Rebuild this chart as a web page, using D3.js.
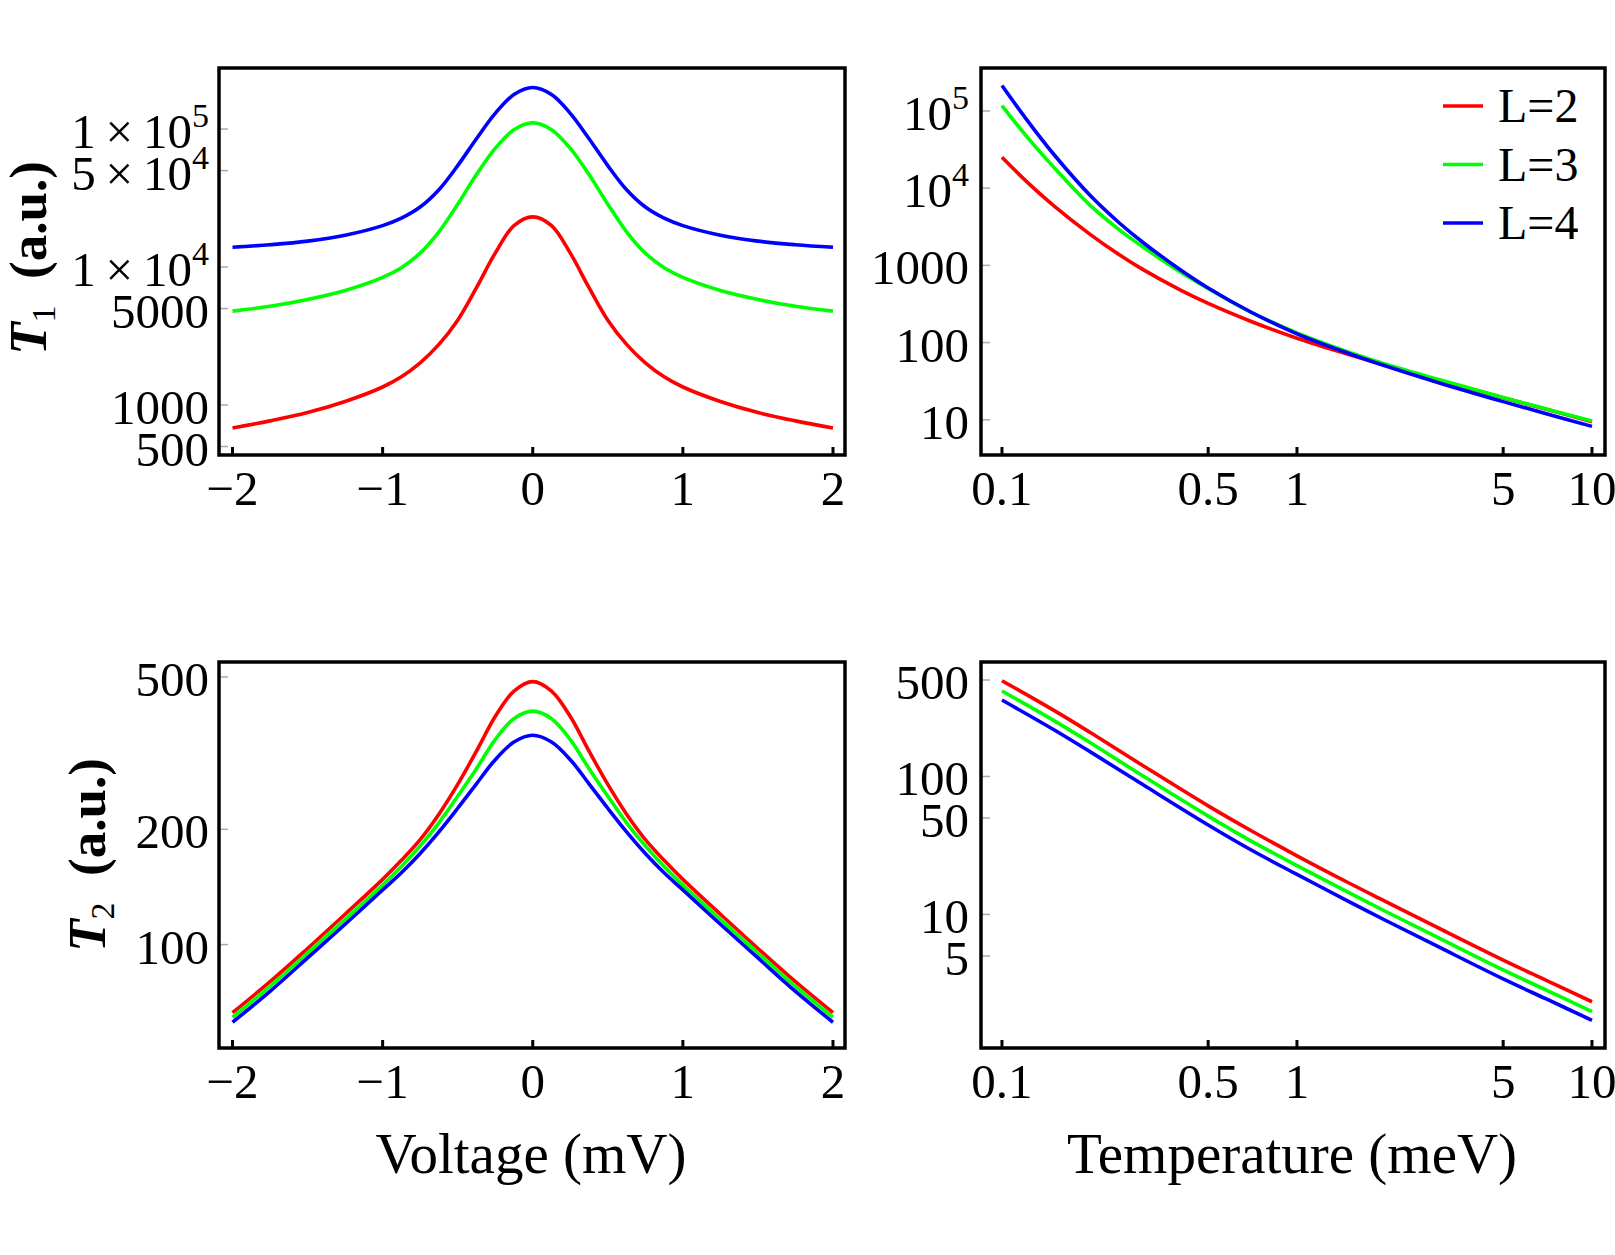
<!DOCTYPE html>
<html>
<head>
<meta charset="utf-8">
<script src="https://cdnjs.cloudflare.com/ajax/libs/d3/7.8.5/d3.min.js"></script>
<style>
  body { margin: 0; background: #fff; }
  text { font-family: "Liberation Serif", "Times New Roman", serif; fill: #000; }
</style>
</head>
<body>
<div class="chart-area"></div>
<script>
// ---- data ----
var series = ["L=2", "L=3", "L=4"];
var colors = ["#ff0000", "#00ff00", "#0000ff"];

var voltage = [-2, -1.75, -1.5, -1.25, -1, -0.875, -0.75, -0.625, -0.5, -0.375, -0.25, -0.125, 0,
               0.125, 0.25, 0.375, 0.5, 0.625, 0.75, 0.875, 1, 1.25, 1.5, 1.75, 2];
var t1VoltL2 = [682, 767, 881, 1060, 1350, 1600, 2020, 2750, 4120, 7080, 12600, 19950, 23100,
                19950, 12600, 7080, 4120, 2750, 2020, 1600, 1350, 1060, 881, 767, 682];
var t1VoltL3 = [4790, 5190, 5820, 6760, 8410, 9890, 12600, 18000, 28500, 46800, 72400, 98900, 111000,
                98900, 72400, 46800, 28500, 18000, 12600, 9890, 8410, 6760, 5820, 5190, 4790];
var t1VoltL4 = [13900, 14500, 15400, 17000, 19950, 22600, 27200, 36300, 54300, 85100, 130000, 178000, 200000,
                178000, 130000, 85100, 54300, 36300, 27200, 22600, 19950, 17000, 15400, 14500, 13900];

var t2VoltL2 = [66.4, 80, 97.7, 120, 148, 166, 188, 219, 262, 320, 394, 459, 486,
                459, 394, 320, 262, 219, 188, 166, 148, 120, 97.7, 80, 66.4];
var t2VoltL3 = [64.6, 77.8, 95, 116.4, 143, 160, 181, 208, 244, 288, 343, 389, 407,
                389, 343, 288, 244, 208, 181, 160, 143, 116.4, 95, 77.8, 64.6];
var t2VoltL4 = [62.7, 75.5, 92.3, 113, 139, 154, 173, 197, 227, 263, 304, 338, 352,
                338, 304, 263, 227, 197, 173, 154, 139, 113, 92.3, 75.5, 62.7];

var temperature = [0.1, 0.12, 0.15, 0.2, 0.25, 0.3, 0.4, 0.5, 0.7, 1, 1.5, 2, 3, 5, 7, 10];
var t1TempL2 = [25100, 12600, 5890, 2480, 1370, 887, 485, 321, 187.5, 113.8, 70.0, 50.7, 32.9, 19.3, 13.7, 9.44];
var t1TempL3 = [117500, 49000, 18600, 5890, 2880, 1740, 832, 501, 245.5, 133.4, 75.0, 52.5, 33.5, 19.5, 13.8, 9.66];
var t1TempL4 = [213800, 81500, 27300, 7900, 3540, 1995, 891, 509, 247, 130, 72.3, 49.7, 30.5, 17.2, 12.0, 8.22];

var temperature2 = [0.1, 0.15, 0.2, 0.3, 0.5, 0.7, 1, 1.5, 2, 3, 5, 7, 10];
var t2TempL2 = [494, 301, 207, 120, 61.2, 40.4, 26.6, 16.9, 12.4, 8.02, 4.67, 3.33, 2.33];
var t2TempL3 = [416, 254, 175, 101, 51.6, 34.0, 22.6, 14.4, 10.5, 6.81, 3.96, 2.83, 1.98];
var t2TempL4 = [358, 218, 150, 87.3, 44.5, 29.3, 19.5, 12.4, 9.04, 5.86, 3.41, 2.44, 1.71];

var voltTicks = [-2, -1, 0, 1, 2];
var voltTickLabels = ["\u22122", "\u22121", "0", "1", "2"];
var tempTicks = [0.1, 0.5, 1, 5, 10];
var tempTickLabels = ["0.1", "0.5", "1", "5", "10"];

var t1VoltTicks = [500, 1000, 5000, 1e4, 5e4, 1e5];
var t1VoltTickLabels = ["500", "1000", "5000", "1\u2009\u00d7\u200910^4", "5\u2009\u00d7\u200910^4", "1\u2009\u00d7\u200910^5"];
var t1TempTicks = [10, 100, 1000, 1e4, 1e5];
var t1TempTickLabels = ["10", "100", "1000", "10^4", "10^5"];
var t2VoltTicks = [100, 200, 500];
var t2VoltTickLabels = ["100", "200", "500"];
var t2TempTicks = [5, 10, 50, 100, 500];
var t2TempTickLabels = ["5", "10", "50", "100", "500"];

// ---- drawing ----
var svg = d3.select(".chart-area")
    .append("svg")
    .attr("width", 1615)
    .attr("height", 1255);

var colL = { x0: 219, x1: 845 };
var colR = { x0: 981, x1: 1605 };
var rowT = { y0: 68, y1: 455 };
var rowB = { y0: 662, y1: 1048 };

var xVolt = d3.scaleLinear().domain([-2.09, 2.08]).range([colL.x0, colL.x1]);
var xTemp = d3.scaleLog().domain([0.0849, 11.07]).range([colR.x0, colR.x1]);

var panels = [
    { x: xVolt, box: colL, row: rowT, xs: voltage, ys: [t1VoltL2, t1VoltL3, t1VoltL4],
      y: d3.scaleLog().domain([434, 2.77e5]).range([rowT.y1, rowT.y0]),
      yt: t1VoltTicks, ytl: t1VoltTickLabels, xt: voltTicks, xtl: voltTickLabels, lblRight: 209 },
    { x: xTemp, box: colR, row: rowT, xs: temperature, ys: [t1TempL2, t1TempL3, t1TempL4],
      y: d3.scaleLog().domain([3.5, 3.6e5]).range([rowT.y1, rowT.y0]),
      yt: t1TempTicks, ytl: t1TempTickLabels, xt: tempTicks, xtl: tempTickLabels, lblRight: 969 },
    { x: xVolt, box: colL, row: rowB, xs: voltage, ys: [t2VoltL2, t2VoltL3, t2VoltL4],
      y: d3.scaleLog().domain([53.7, 547]).range([rowB.y1, rowB.y0]),
      yt: t2VoltTicks, ytl: t2VoltTickLabels, xt: voltTicks, xtl: voltTickLabels, lblRight: 209 },
    { x: xTemp, box: colR, row: rowB, xs: temperature2, ys: [t2TempL2, t2TempL3, t2TempL4],
      y: d3.scaleLog().domain([1.077, 675]).range([rowB.y1, rowB.y0]),
      yt: t2TempTicks, ytl: t2TempTickLabels, xt: tempTicks, xtl: tempTickLabels, lblRight: 969 }
];

panels.forEach(function(p, i) {
    var g = svg.append("g");
    var clipId = "clip" + i;
    svg.append("clipPath").attr("id", clipId)
        .append("rect")
        .attr("x", p.box.x0).attr("y", p.row.y0)
        .attr("width", p.box.x1 - p.box.x0).attr("height", p.row.y1 - p.row.y0);

    // ticks on the left edge (faint grey)
    g.selectAll(".ytick").data(p.yt).enter().append("line")
        .attr("x1", p.box.x0).attr("x2", p.box.x0 + 9)
        .attr("y1", function(d) { return p.y(d); })
        .attr("y2", function(d) { return p.y(d); })
        .attr("stroke", "#aaa").attr("stroke-width", 1.5);

    // ticks on the bottom edge
    g.selectAll(".xtick").data(p.xt).enter().append("line")
        .attr("x1", function(d) { return p.x(d); })
        .attr("x2", function(d) { return p.x(d); })
        .attr("y1", p.row.y1).attr("y2", p.row.y1 - 8)
        .attr("stroke", "#000").attr("stroke-width", 3);

    var line = d3.line()
        .x(function(d, k) { return p.x(p.xs[k]); })
        .y(function(d) { return p.y(d); })
        .curve(d3.curveCatmullRom.alpha(0.5));

    g.append("g").attr("clip-path", "url(#" + clipId + ")")
        .selectAll("path").data(p.ys).enter().append("path")
        .attr("d", line)
        .attr("fill", "none")
        .attr("stroke", function(d, k) { return colors[k]; })
        .attr("stroke-width", 3.6)
        .attr("stroke-linejoin", "round");

    g.append("rect")
        .attr("x", p.box.x0).attr("y", p.row.y0)
        .attr("width", p.box.x1 - p.box.x0).attr("height", p.row.y1 - p.row.y0)
        .attr("fill", "none").attr("stroke", "#000").attr("stroke-width", 3.5);

    // x tick labels
    g.selectAll(".xl").data(p.xt).enter().append("text")
        .attr("x", function(d) { return p.x(d); })
        .attr("y", p.row.y1 + 50)
        .attr("text-anchor", "middle")
        .attr("font-size", 49)
        .text(function(d, k) { return p.xtl[k]; });

    // y tick labels, "a^b" -> superscript
    p.yt.forEach(function(v, k) {
        var parts = p.ytl[k].split("^");
        var t = g.append("text")
            .attr("x", p.lblRight)
            .attr("y", p.y(v) + 19)
            .attr("text-anchor", "end")
            .attr("font-size", 49);
        t.append("tspan").text(parts[0]);
        if (parts.length > 1) {
            t.append("tspan").attr("font-size", 34).attr("dy", -21).text(parts[1]);
        }
    });
});

// legend
series.forEach(function(s, k) {
    var ly = 106 + k * 58.5;
    svg.append("line")
        .attr("x1", 1443).attr("x2", 1483)
        .attr("y1", ly).attr("y2", ly)
        .attr("stroke", colors[k]).attr("stroke-width", 3.6);
    svg.append("text")
        .attr("x", 1498).attr("y", ly + 16)
        .attr("font-size", 48)
        .text(s);
});

// axis titles
svg.append("text").attr("x", 531).attr("y", 1173)
    .attr("text-anchor", "middle").attr("font-size", 57).text("Voltage (mV)");
svg.append("text").attr("x", 1292).attr("y", 1173)
    .attr("text-anchor", "middle").attr("font-size", 57).text("Temperature (meV)");

function yTitle(x, y, sub) {
    var t = svg.append("text")
        .attr("transform", "translate(" + x + "," + y + ") rotate(-90)")
        .attr("text-anchor", "middle")
        .attr("font-size", 53)
        .attr("font-weight", "bold");
    t.append("tspan").attr("font-style", "italic").text("T");
    t.append("tspan").attr("font-size", 34).attr("font-weight", "normal").attr("dy", 9).text(sub);
    t.append("tspan").attr("dy", -9).text("\u2002(a.u.)");
}
yTitle(46, 258, "1");
yTitle(105, 855, "2");
</script>
</body>
</html>
